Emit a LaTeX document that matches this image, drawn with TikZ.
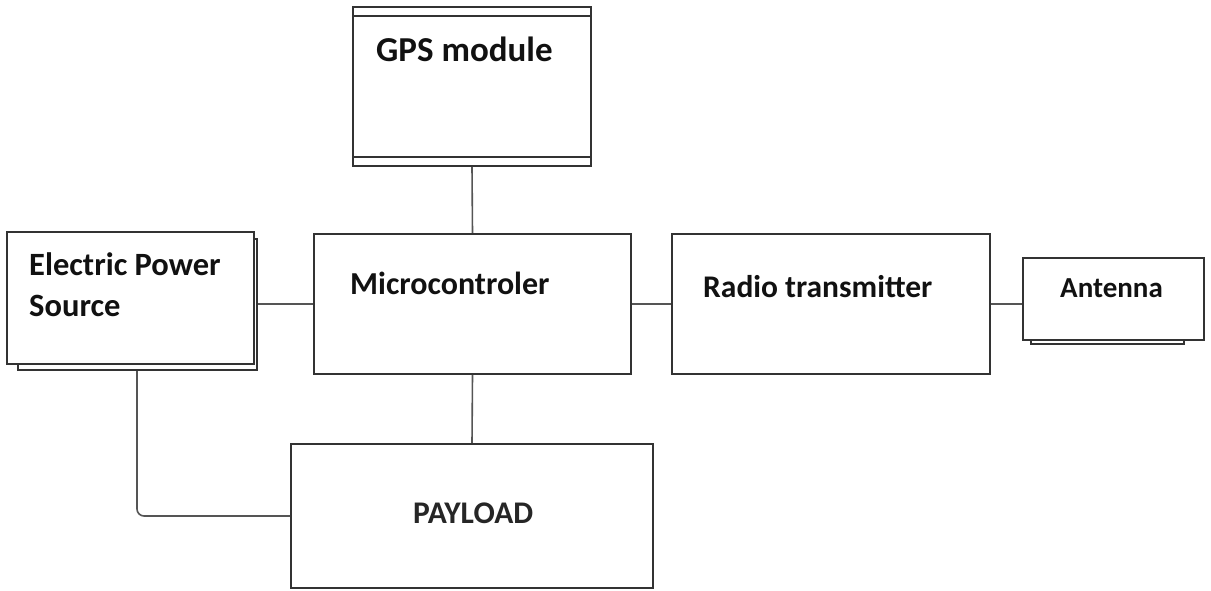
\documentclass[tikz,border=0pt]{standalone}
\usepackage{fontspec}
\setmainfont{Carlito}
\definecolor{boxgray}{HTML}{333333}
\definecolor{linegray}{HTML}{555555}
\definecolor{txt}{HTML}{111111}
\begin{document}
\begin{tikzpicture}[x=1pt,y=-1pt,
  box/.style={draw=boxgray, line width=2pt, fill=white, inner sep=0pt},
  shadowbox/.style={draw=boxgray, line width=2pt, fill=white},
  conn/.style={draw=linegray, line width=1.6pt},
  lbl/.style={anchor=base west, inner sep=0pt, text=txt, font=\bfseries}]
\useasboundingbox[fill=white] (0,0) rectangle (1211,591);
% GPS module
\node[box, minimum width=238pt, minimum height=159pt] (gps) at (472,86.5) {};
\draw[boxgray, line width=1.6pt] (353,16) -- (591,16) (353,157) -- (591,157);
\node[lbl, font=\fontsize{35}{42}\selectfont\bfseries] (gpsT) at (376,62) {GPS module};
% Electric power source
\draw[shadowbox] (18,239) rectangle (257,370);
\node[box, minimum width=247pt, minimum height=132pt] (eps) at (130.5,298) {};
\node[lbl, font=\fontsize{32.5}{38}\selectfont\bfseries] (epsT1) at (29,275) {Electric Power};
\node[lbl, font=\fontsize{32.5}{38}\selectfont\bfseries] (epsT2) at (29,316) {Source};
% Microcontroller
\node[box, minimum width=317pt, minimum height=140pt] (micro) at (472.5,304) {};
\node[lbl, font=\fontsize{32}{38}\selectfont\bfseries] (microT) at (350,294) {Microcontroler};
% Radio transmitter
\node[box, minimum width=318pt, minimum height=140pt] (radio) at (831,304) {};
\node[lbl, font=\fontsize{31.5}{38}\selectfont\bfseries] (radioT) at (703,297) {Radio transmitter};
% Antenna
\draw[shadowbox] (1031,300) rectangle (1184,344);
\node[box, minimum width=181pt, minimum height=82pt] (ant) at (1113.5,299) {};
\node[lbl, font=\fontsize{29}{34}\selectfont\bfseries] (antT) at (1060,297) {Antenna};
% Payload
\node[box, minimum width=362pt, minimum height=144pt] (pay) at (472,516) {};
\node[lbl, text=black!85, font=\fontsize{31.5}{38}\selectfont\bfseries] (payT) at (413,523) {PAYLOAD};
% connectors
\coordinate (epsout) at (137,371);
\coordinate (epsR) at (258,304);
\draw[conn] (gps.south) -- (micro.north);
\draw[conn] (epsR) -- (micro.west);
\draw[conn] (micro.east) -- (radio.west);
\draw[conn] (radio.east) -- (radio.east -| ant.west);
\draw[conn] (micro.south) -- (pay.north);
\draw[conn, rounded corners=7pt] (epsout) |- (pay.west);
\end{tikzpicture}
\end{document}
